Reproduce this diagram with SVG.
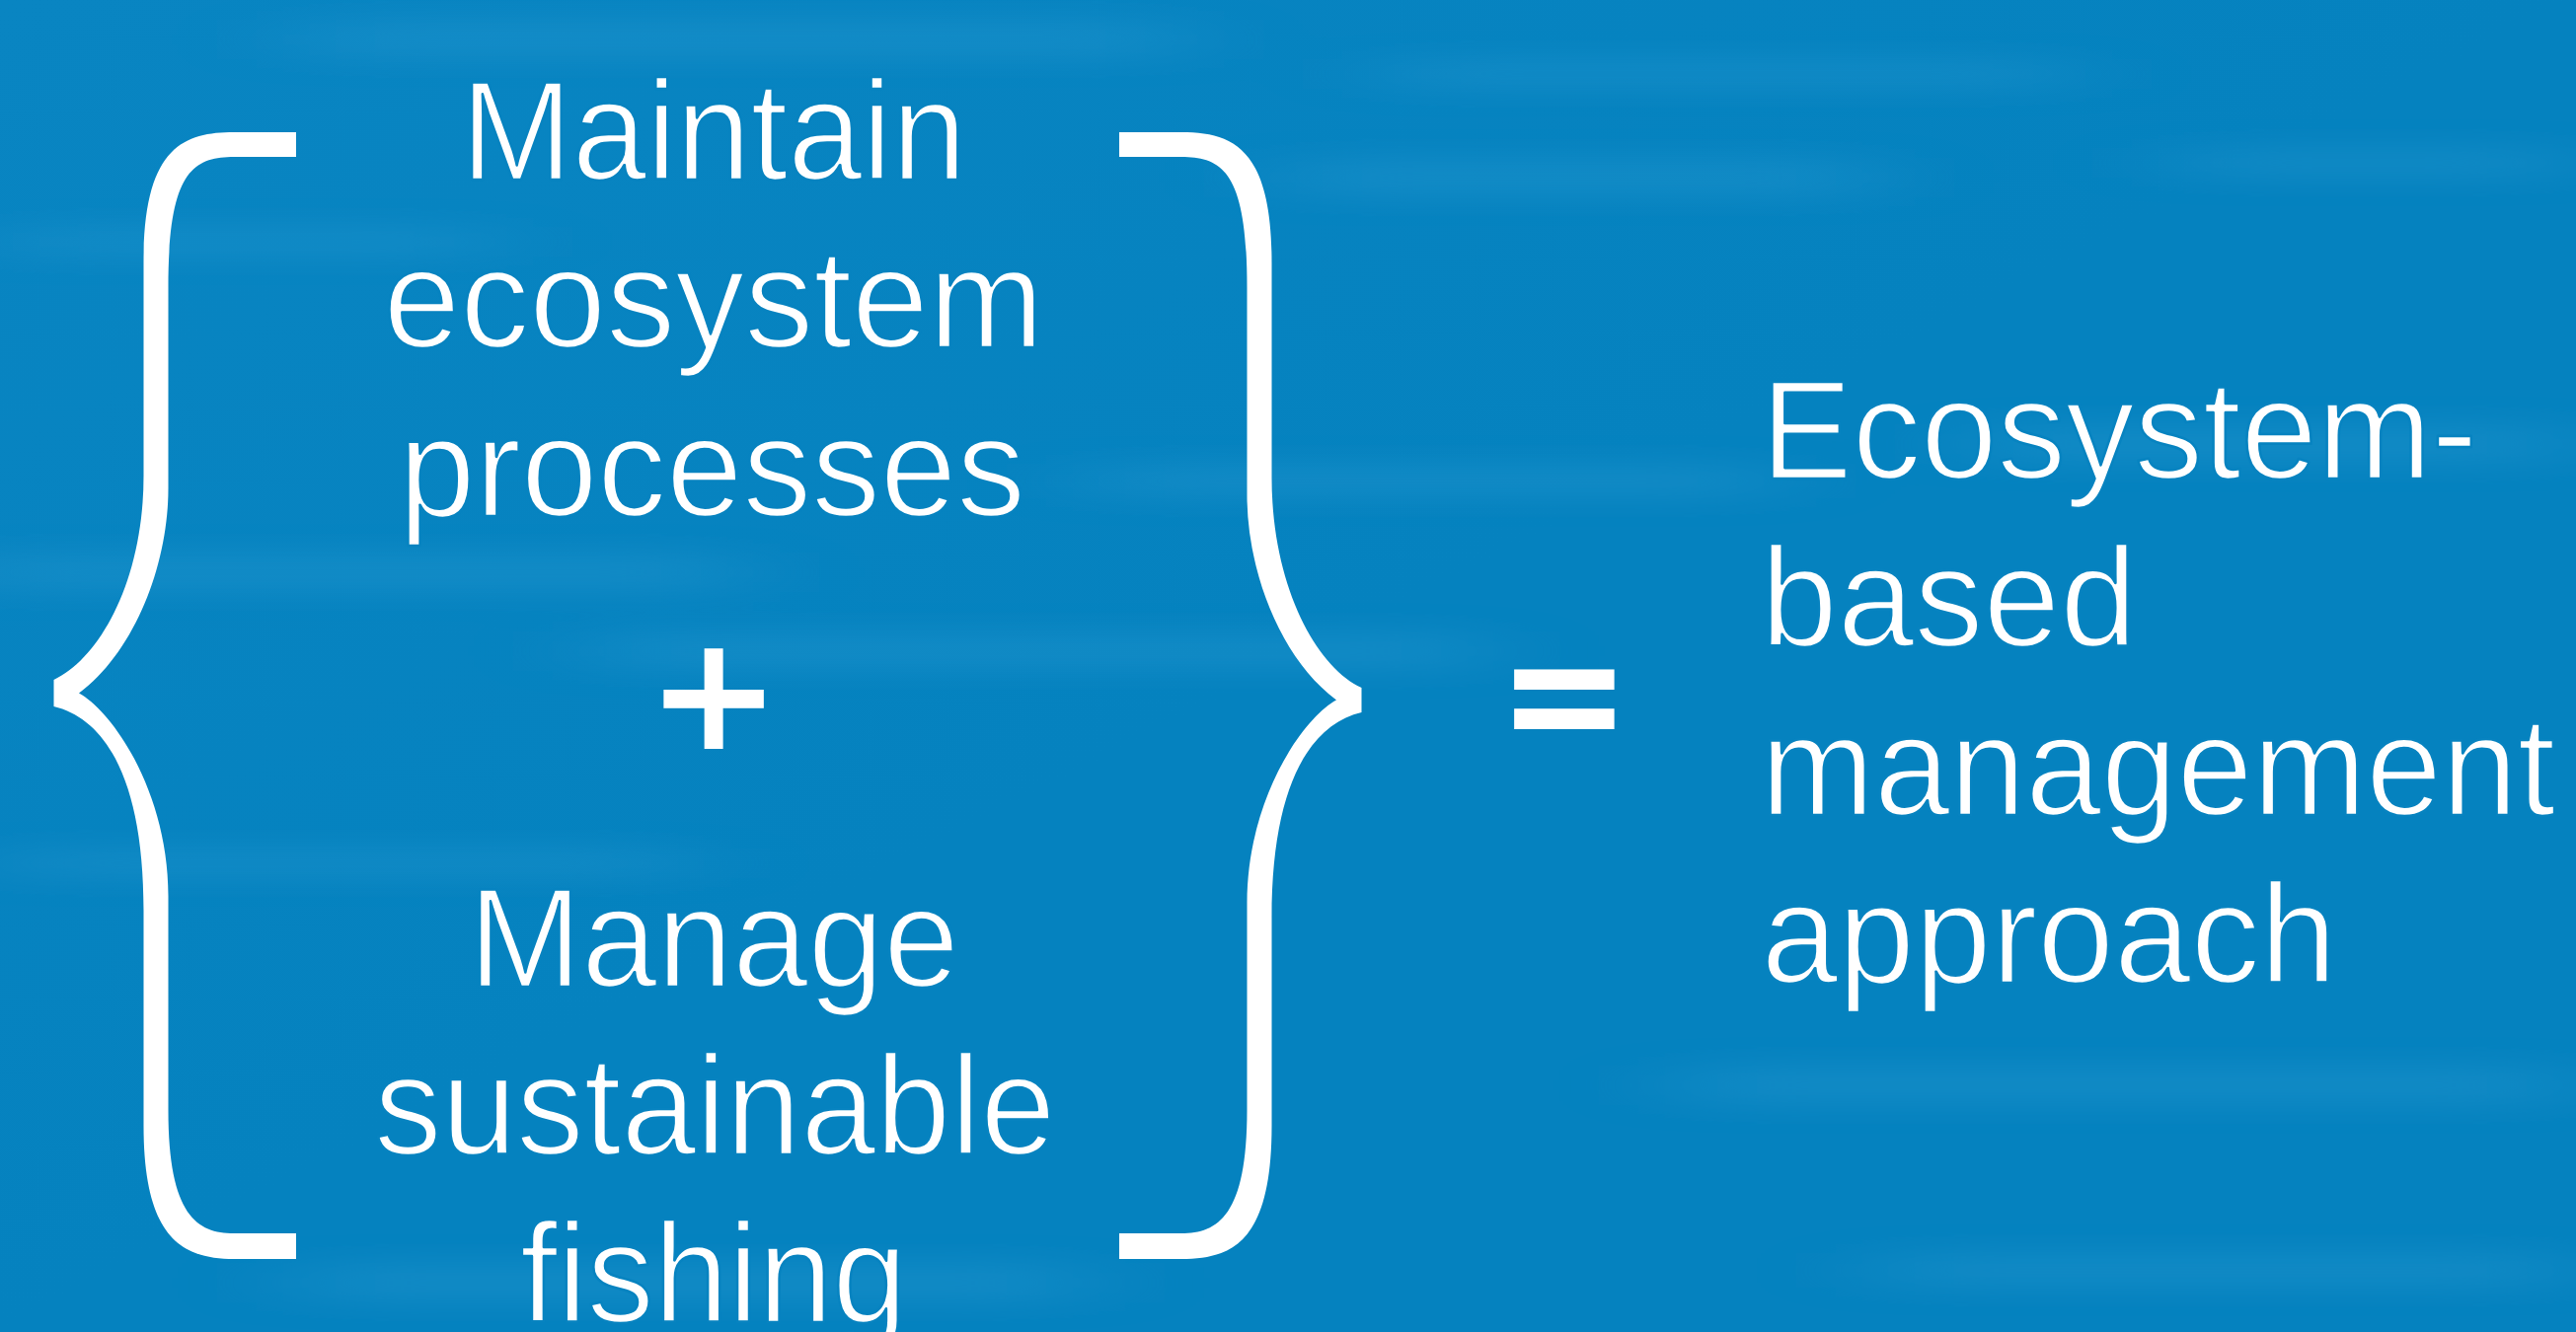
<svg xmlns="http://www.w3.org/2000/svg" width="2610" height="1350" viewBox="0 0 2610 1350">
  <defs>
    <style>
      .t { font-family: "Liberation Sans", Arial, Helvetica, sans-serif; font-weight: 400; font-size: 143px; fill: #ffffff; stroke: #0783c0; stroke-width: 2.6px; stroke-linejoin: round; }
      .c { text-anchor: middle; }
      .op { font-family: "DejaVu Sans", "Liberation Sans", sans-serif; font-weight: 700; font-size: 162px; fill: #ffffff; text-anchor: middle; }
      .brace { fill: #ffffff; }
      .streak { fill: #2c9bd3; }
    </style>
    <linearGradient id="bg" x1="0" y1="0" x2="1" y2="1">
      <stop offset="0" stop-color="#0985c2"/>
      <stop offset="0.5" stop-color="#0582bf"/>
      <stop offset="1" stop-color="#0582bf"/>
    </linearGradient>
    <filter id="blur" x="-20%" y="-300%" width="140%" height="700%">
      <feGaussianBlur stdDeviation="60 14"/>
    </filter>
  </defs>

  <g id="background">
    <rect x="0" y="0" width="2610" height="1350" fill="url(#bg)"/>
    <g filter="url(#blur)" opacity="0.33">
      <rect class="streak" x="300" y="20" width="900" height="40"/>
      <rect class="streak" x="1400" y="60" width="700" height="30"/>
      <rect class="streak" x="1300" y="160" width="600" height="40"/>
      <rect class="streak" x="0" y="230" width="500" height="30"/>
      <rect class="streak" x="-50" y="560" width="800" height="40"/>
      <rect class="streak" x="600" y="640" width="900" height="40"/>
      <rect class="streak" x="1100" y="470" width="700" height="35"/>
      <rect class="streak" x="2000" y="430" width="600" height="40"/>
      <rect class="streak" x="0" y="860" width="700" height="30"/>
      <rect class="streak" x="1700" y="1080" width="900" height="40"/>
      <rect class="streak" x="300" y="1280" width="800" height="40"/>
      <rect class="streak" x="1900" y="1270" width="700" height="35"/>
      <rect class="streak" x="2200" y="150" width="400" height="30"/>
    </g>
  </g>

  <g id="left-brace">
    <path class="brace" d="M 300,134 H 237 C 185,134 145.5,150 145.5,266 V 482 C 145.5,590 100,668 54.5,689 V 716 C 109,729 145.5,794 145.5,923 V 1141 C 145.5,1255 185,1276 237,1276 H 300 V 1250 H 237 C 200,1250 170.5,1232 170.5,1125 V 908 C 170.5,803 114,721 80,702.5 C 136,661 170.5,573 170.5,495 V 291 C 170.5,175 195,159 237,159 H 300 Z"/>
  </g>

  <g id="right-brace">
    <path class="brace" d="M 1134,134 H 1197 C 1249,134 1288.5,150 1288.5,266 V 484 C 1288.5,594 1334,676 1379.5,697 V 722 C 1325,735 1288.5,800 1288.5,930 V 1141 C 1288.5,1258 1249,1276 1197,1276 H 1134 V 1250 H 1197 C 1234,1250 1263.5,1232 1263.5,1125 V 915 C 1263.5,810 1320,728 1354,709.5 C 1298,668 1263.5,580 1263.5,502 V 291 C 1263.5,175 1239,159 1197,159 H 1134 Z"/>
  </g>

  <g id="node-maintain">
    <text class="t c" x="723" y="182" textLength="512" lengthAdjust="spacingAndGlyphs">Maintain</text>
    <text class="t c" x="723" y="352" textLength="669" lengthAdjust="spacingAndGlyphs">ecosystem</text>
    <text class="t c" x="721.5" y="523" textLength="635" lengthAdjust="spacingAndGlyphs">processes</text>
  </g>

  <g id="node-plus">
    <text class="op" x="723" y="759">+</text>
  </g>

  <g id="node-manage">
    <text class="t c" x="723.3" y="1000" textLength="497" lengthAdjust="spacingAndGlyphs">Manage</text>
    <text class="t c" x="724.3" y="1170" textLength="690" lengthAdjust="spacingAndGlyphs">sustainable</text>
    <text class="t c" x="723" y="1340" textLength="392" lengthAdjust="spacingAndGlyphs">fishing</text>
  </g>

  <g id="node-equals">
    <text class="op" x="1585" y="762" transform="matrix(1,0,0,1.1,0,-73)">=</text>
  </g>

  <g id="node-result">
    <text class="t" x="1784" y="485" textLength="726" lengthAdjust="spacingAndGlyphs">Ecosystem-</text>
    <text class="t" x="1784" y="655" textLength="381" lengthAdjust="spacingAndGlyphs">based</text>
    <text class="t" x="1784" y="826" textLength="805" lengthAdjust="spacingAndGlyphs">management</text>
    <text class="t" x="1784.5" y="996" textLength="583" lengthAdjust="spacingAndGlyphs">approach</text>
  </g>

  <g id="connectors"></g>
</svg>
